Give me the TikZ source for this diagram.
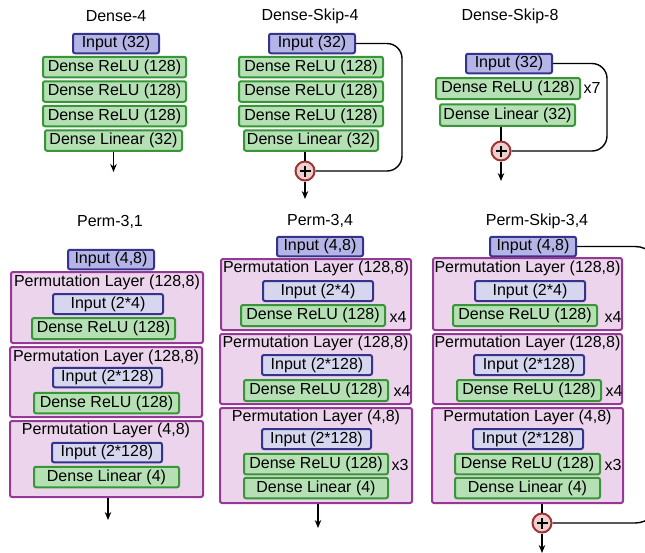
\documentclass[tikz,border=0pt]{standalone}
\usepackage{fontspec}
\setmainfont{Liberation Sans}
\usetikzlibrary{arrows.meta,calc}
\definecolor{inpfill}{RGB}{180,180,230}
\definecolor{inpfilltwo}{RGB}{214,214,238}
\definecolor{inpdraw}{RGB}{52,52,140}
\definecolor{grnfill}{RGB}{180,224,180}
\definecolor{grndraw}{RGB}{56,150,56}
\definecolor{permfill}{RGB}{236,212,236}
\definecolor{permdraw}{RGB}{150,56,150}
\definecolor{plusfill}{RGB}{236,208,208}
\definecolor{plusdraw}{RGB}{160,52,52}
\tikzset{
  fnt/.style={font=\fontsize{16}{18}\selectfont},
  box/.style={fnt, draw, rounded corners=2pt, line width=2pt, inner sep=0pt},
  inp/.style={box, draw=inpdraw, fill=inpfill, minimum height=19.5pt},
  inpin/.style={inp, fill=inpfilltwo},
  grn/.style={box, draw=grndraw, fill=grnfill, minimum height=20.5pt},
  perm/.style={box, draw=permdraw, fill=permfill},
  plus/.style={circle, draw=plusdraw, fill=plusfill, line width=2pt, minimum size=19pt, inner sep=0pt,
    path picture={\draw[line width=1.7pt,black]
      ([xshift=-5.5pt]path picture bounding box.center) -- ([xshift=5.5pt]path picture bounding box.center)
      ([yshift=-5.5pt]path picture bounding box.center) -- ([yshift=5.5pt]path picture bounding box.center);}},
  txt/.style={fnt, inner sep=0pt},
  conn/.style={line width=1.4pt, black},
  arr/.style={conn, -{Stealth[length=8pt,width=6.5pt]}},
  skip/.style={conn, rounded corners=15pt},
}
\begin{document}
\begin{tikzpicture}[x=1pt,y=-1pt]
\useasboundingbox (0,0) rectangle (645,552);
% ---------------- Dense-4
\node[txt] (t1) at (116,16) {Dense-4};
\node[inp, minimum width=86pt] (a-in) at (116,43.5) {Input (32)};
\node[grn, minimum width=143pt] (a-r1) at (114.5,67) {Dense ReLU (128)};
\node[grn, minimum width=143pt] (a-r2) at (114.5,91.5) {Dense ReLU (128)};
\node[grn, minimum width=143pt] (a-r3) at (114.5,116) {Dense ReLU (128)};
\node[grn, minimum width=137pt] (a-lin) at (113.5,140.5) {Dense Linear (32)};
\coordinate (a-out) at (113.5,172);
\draw[arr] (a-lin.south) -- (a-out);
% ---------------- Dense-Skip-4
\node[txt] (t2) at (310,16) {Dense-Skip-4};
\node[inp, minimum width=86pt] (b-in) at (312,43.5) {Input (32)};
\node[grn, minimum width=144pt] (b-r1) at (311,67) {Dense ReLU (128)};
\node[grn, minimum width=144pt] (b-r2) at (311,91.5) {Dense ReLU (128)};
\node[grn, minimum width=144pt] (b-r3) at (311,116) {Dense ReLU (128)};
\node[grn, minimum width=134pt] (b-lin) at (311,140.5) {Dense Linear (32)};
\node[plus] (b-plus) at (305,171) {};
\coordinate (b-out) at (305,199);
\draw[conn] (b-lin.south -| b-plus) -- (b-plus.north);
\draw[skip] (b-in.east) -- (402,43.5) -- (402,171) -- (b-plus.east);
\draw[arr] (b-plus.south) -- (b-out);
% ---------------- Dense-Skip-8
\node[txt] (t3) at (510,16) {Dense-Skip-8};
\node[inp, minimum width=86pt] (c-in) at (509,63.5) {Input (32)};
\node[grn, minimum width=144pt, minimum height=21pt] (c-r) at (508,88.5) {Dense ReLU (128)};
\node[txt] (c-x) at (592,88) {x7};
\node[grn, minimum width=135pt, minimum height=21.5pt] (c-lin) at (507.5,115) {Dense Linear (32)};
\node[plus] (c-plus) at (501,151) {};
\coordinate (c-out) at (501,181);
\draw[conn] (c-lin.south -| c-plus) -- (c-plus.north);
\draw[skip] (c-in.east) -- (607,63.5) -- (607,151) -- (c-plus.east);
\draw[arr] (c-plus.south) -- (c-out);
% ---------------- Perm-3,1
\node[txt] (t4) at (110,222) {Perm-3,1};
\node[inp, minimum width=86pt] (d-in) at (111,259.5) {Input (4,8)};
\node[perm, minimum width=192pt, minimum height=71pt] (d-p1) at (107,307.5) {};
\node[txt] (d-l1) at (107,282) {Permutation Layer (128,8)};
\node[inpin, minimum width=110pt, minimum height=20pt] (d-i1) at (108,304) {Input (2*4)};
\node[grn, minimum width=143pt, minimum height=21pt] (d-r1) at (103.5,328.5) {Dense ReLU (128)};
\node[perm, minimum width=192pt, minimum height=70pt] (d-p2) at (106,382) {};
\node[txt] (d-l2) at (106,357) {Permutation Layer (128,8)};
\node[inpin, minimum width=109pt, minimum height=19.5pt] (d-i2) at (107.5,377.5) {Input (2*128)};
\node[grn, minimum width=145pt] (d-r2) at (106.5,403) {Dense ReLU (128)};
\node[perm, minimum width=193pt, minimum height=76pt] (d-p3) at (106.5,459) {};
\node[txt] (d-l3) at (106,430) {Permutation Layer (4,8)};
\node[inpin, minimum width=110pt, minimum height=19.5pt] (d-i3) at (107,452.5) {Input (2*128)};
\node[grn, minimum width=145pt] (d-lin) at (106.5,477) {Dense Linear (4)};
\coordinate (d-out) at (108,520);
\draw[arr] (d-p3.south -| d-out) -- (d-out);
% ---------------- Perm-3,4
\node[txt] (t5) at (320,221) {Perm-3,4};
\node[inp, minimum width=86pt] (e-in) at (320,246.5) {Input (4,8)};
\node[perm, minimum width=190pt, minimum height=71pt] (e-p1) at (316,294.5) {};
\node[txt] (e-l1) at (316,268) {Permutation Layer (128,8)};
\node[inpin, minimum width=110pt, minimum height=20pt] (e-i1) at (318,291) {Input (2*4)};
\node[grn, minimum width=144pt, minimum height=21pt] (e-r1) at (313,315.5) {Dense ReLU (128)};
\node[txt] (e-x1) at (398,317) {x4};
\node[perm, minimum width=191pt, minimum height=70pt] (e-p2) at (315.5,369) {};
\node[txt] (e-l2) at (315.5,343) {Permutation Layer (128,8)};
\node[inpin, minimum width=110pt, minimum height=20pt] (e-i2) at (317,365) {Input (2*128)};
\node[grn, minimum width=144pt, minimum height=21pt] (e-r2) at (316,390.5) {Dense ReLU (128)};
\node[txt] (e-x2) at (402,391) {x4};
\node[perm, minimum width=192pt, minimum height=95pt] (e-p3) at (316,455.5) {};
\node[txt] (e-l3) at (316,417) {Permutation Layer (4,8)};
\node[inpin, minimum width=109pt, minimum height=20pt] (e-i3) at (316.5,439) {Input (2*128)};
\node[grn, minimum width=144pt] (e-r3) at (316,464) {Dense ReLU (128)};
\node[txt] (e-x3) at (400,465) {x3};
\node[grn, minimum width=144pt] (e-lin) at (316,488) {Dense Linear (4)};
\coordinate (e-out) at (318,528);
\draw[arr] (e-p3.south -| e-out) -- (e-out);
% ---------------- Perm-Skip-3,4
\node[txt] (t6) at (537,221) {Perm-Skip-3,4};
\node[inp, minimum width=86pt] (f-in) at (533,246.5) {Input (4,8)};
\node[perm, minimum width=189pt, minimum height=72pt] (f-p1) at (527.5,294) {};
\node[txt] (f-l1) at (527.5,268) {Permutation Layer (128,8)};
\node[inpin, minimum width=110pt, minimum height=20pt] (f-i1) at (530,291) {Input (2*4)};
\node[grn, minimum width=144pt, minimum height=21pt] (f-r1) at (525,315.5) {Dense ReLU (128)};
\node[txt] (f-x1) at (613,317) {x4};
\node[perm, minimum width=189pt, minimum height=70pt] (f-p2) at (527.5,369) {};
\node[txt] (f-l2) at (527.5,343) {Permutation Layer (128,8)};
\node[inpin, minimum width=110pt, minimum height=20pt] (f-i2) at (529,365) {Input (2*128)};
\node[grn, minimum width=144pt, minimum height=21pt] (f-r2) at (529,390.5) {Dense ReLU (128)};
\node[txt] (f-x2) at (614,391) {x4};
\node[perm, minimum width=191pt, minimum height=95pt] (f-p3) at (527.5,455.5) {};
\node[txt] (f-l3) at (527.5,417) {Permutation Layer (4,8)};
\node[inpin, minimum width=110pt, minimum height=20pt] (f-i3) at (528,439) {Input (2*128)};
\node[grn, minimum width=145pt] (f-r3) at (527.5,464) {Dense ReLU (128)};
\node[txt] (f-x3) at (613,465) {x3};
\node[grn, minimum width=145pt] (f-lin) at (527.5,488) {Dense Linear (4)};
\node[plus] (f-plus) at (542,523) {};
\coordinate (f-out) at (542,553);
\draw[conn] (f-p3.south -| f-plus) -- (f-plus.north);
\draw[conn, rounded corners=25pt] (f-in.east) -- (660,246.5) -- (660,523) -- (f-plus.east);
\draw[arr] (f-plus.south) -- (f-out);
\end{tikzpicture}
\end{document}
